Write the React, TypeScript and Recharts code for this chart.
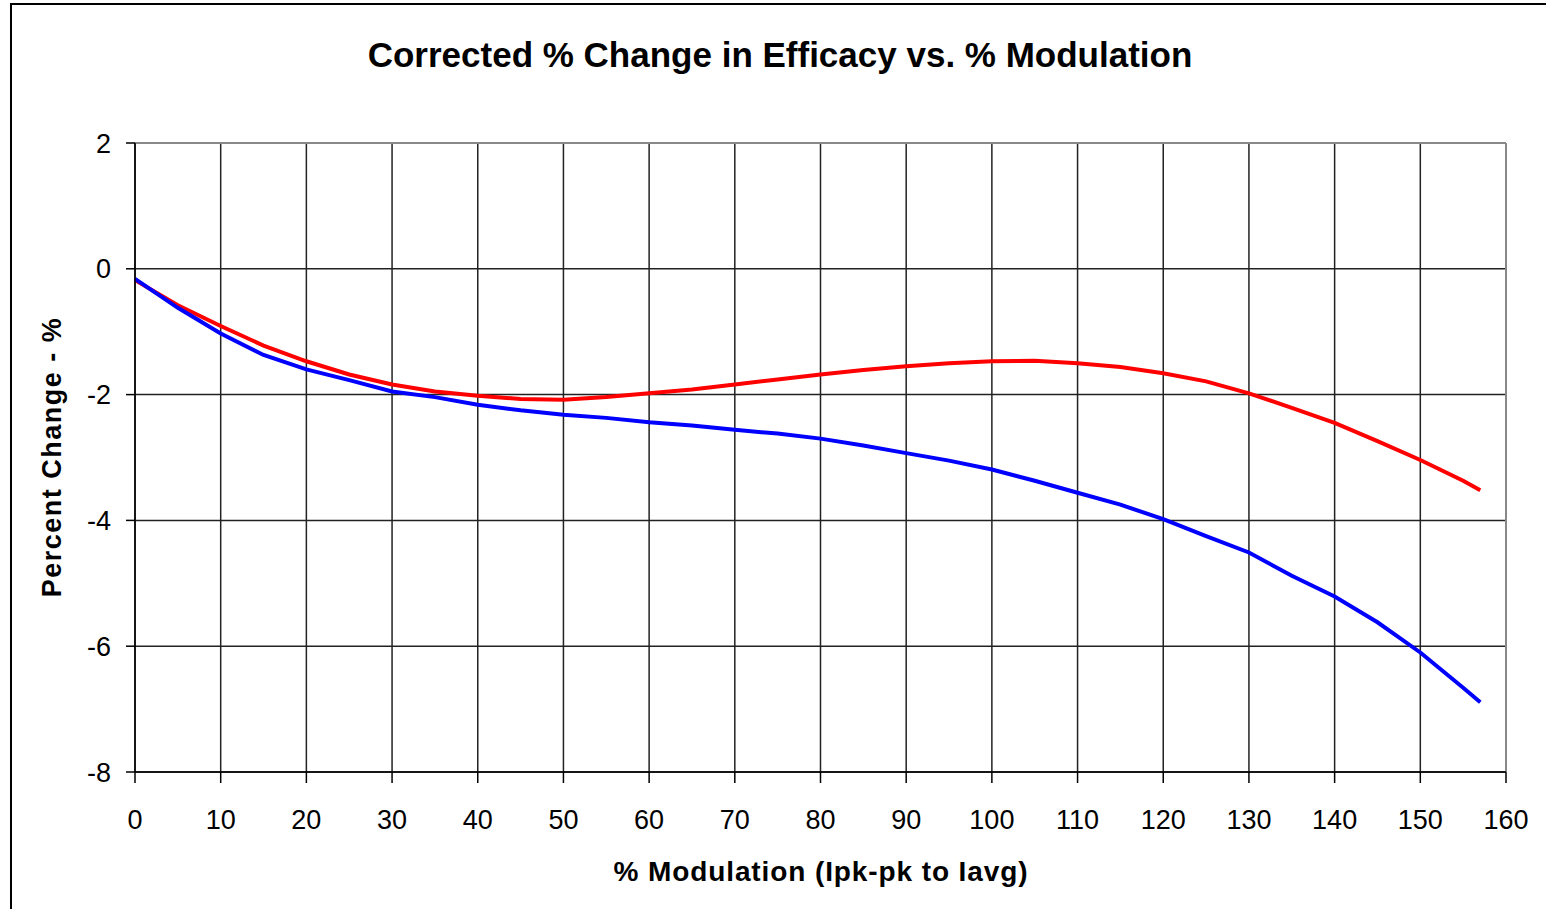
import { LineChart, Line, XAxis, YAxis, CartesianGrid, ReferenceLine } from 'recharts'

const modulation = [0, 5, 10, 15, 20, 25, 30, 35, 40, 45, 50, 55, 60, 65, 70, 75, 80, 85, 90, 95, 100, 105, 110, 115, 120, 125, 130, 135, 140, 145, 150, 155, 157]
const redSeries = [-0.18, -0.58, -0.91, -1.22, -1.47, -1.68, -1.84, -1.95, -2.02, -2.07, -2.08, -2.04, -1.98, -1.92, -1.84, -1.76, -1.68, -1.61, -1.55, -1.5, -1.47, -1.46, -1.5, -1.56, -1.66, -1.79, -1.98, -2.21, -2.45, -2.74, -3.04, -3.37, -3.52]
const blueSeries = [-0.16, -0.62, -1.03, -1.37, -1.6, -1.77, -1.95, -2.04, -2.16, -2.25, -2.32, -2.37, -2.44, -2.49, -2.56, -2.62, -2.7, -2.81, -2.93, -3.05, -3.19, -3.37, -3.56, -3.75, -3.98, -4.25, -4.51, -4.88, -5.21, -5.62, -6.1, -6.66, -6.89]
const xTicks = [0, 10, 20, 30, 40, 50, 60, 70, 80, 90, 100, 110, 120, 130, 140, 150, 160]
const yTicks = [-8, -6, -4, -2, 0, 2]

const title = 'Corrected % Change in Efficacy vs. % Modulation'
const xLabel = '% Modulation (Ipk-pk to Iavg)'
const yLabel = 'Percent Change - %'

const data = modulation.map((m, i) => ({ m, red: redSeries[i], blue: blueSeries[i] }))

const font = '"Liberation Sans", Arial, sans-serif'

export default function App() {
  return (
    <div style={{ position: 'relative', width: 1546, height: 909, overflow: 'hidden', background: '#fff', fontFamily: font }}>
      <style>{`body{margin:0;overflow:hidden}`}</style>
      <div style={{ position: 'absolute', left: 10, top: 3, width: 1600, height: 1000, border: '2px solid #000' }} />
      <div style={{ position: 'absolute', left: 0, width: 1560, top: 35, textAlign: 'center', fontSize: 35, fontWeight: 'bold' }}>
        {title}
      </div>
      <div style={{ position: 'absolute', left: 0, width: 1642, top: 856, textAlign: 'center', fontSize: 28, fontWeight: 'bold', letterSpacing: 0.9 }}>
        {xLabel}
      </div>
      <div style={{ position: 'absolute', left: 52, top: 457, transform: 'translate(-50%, -50%) rotate(-90deg)', whiteSpace: 'nowrap', fontSize: 27, fontWeight: 'bold', letterSpacing: 1.5 }}>
        {yLabel}
      </div>
      <div style={{ position: 'absolute', left: 0, top: 0 }}>
        <LineChart width={1546} height={909} data={data} margin={{ top: 143, right: 40, bottom: 107, left: 75 }}>
          <CartesianGrid stroke="#222" strokeWidth={1.5} />
          <XAxis
            dataKey="m"
            type="number"
            domain={[0, 160]}
            ticks={xTicks}
            interval={0}
            height={30}
            tickSize={11}
            tickMargin={27}
            stroke="#000"
            strokeWidth={1.5}
            tick={{ fill: '#000', fontSize: 27, fontFamily: font }}
          />
          <YAxis
            type="number"
            domain={[-8, 2]}
            ticks={yTicks}
            interval={0}
            width={60}
            tickSize={9}
            tickMargin={15}
            stroke="#000"
            strokeWidth={1.5}
            tick={{ fill: '#000', fontSize: 27, fontFamily: font }}
          />
          <ReferenceLine y={2} stroke="#888" strokeWidth={2} />
          <ReferenceLine x={160} stroke="#888" strokeWidth={2} />
          <Line type="linear" dataKey="red" stroke="#ff0000" strokeWidth={4} dot={false} isAnimationActive={false} />
          <Line type="linear" dataKey="blue" stroke="#0000ff" strokeWidth={4} dot={false} isAnimationActive={false} />
        </LineChart>
      </div>
    </div>
  )
}
